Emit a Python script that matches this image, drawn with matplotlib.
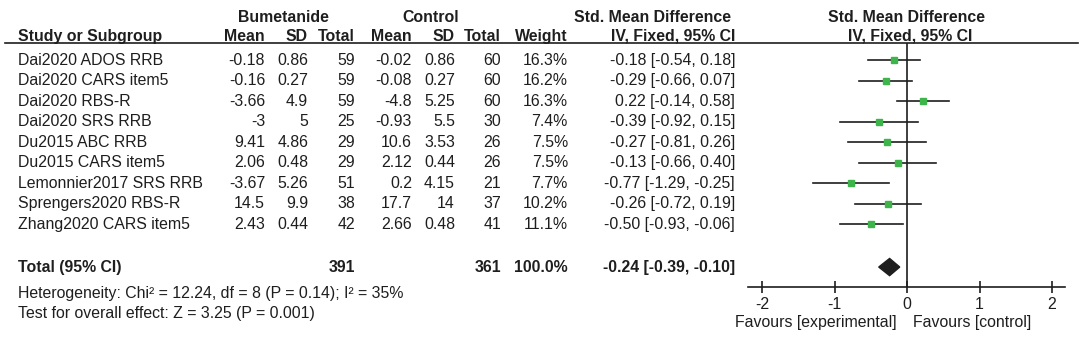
import matplotlib
matplotlib.use('Agg')
import matplotlib.pyplot as plt
import matplotlib.transforms as mtransforms
from matplotlib.lines import Line2D

plt.rcParams['font.family'] = ['Liberation Sans', 'DejaVu Sans']

# data
studies = ['Dai2020 ADOS RRB', 'Dai2020 CARS item5', 'Dai2020 RBS-R', 'Dai2020 SRS RRB',
           'Du2015 ABC RRB', 'Du2015 CARS item5', 'Lemonnier2017 SRS RRB',
           'Sprengers2020 RBS-R', 'Zhang2020 CARS item5']
bum_mean = [-0.18, -0.16, -3.66, -3, 9.41, 2.06, -3.67, 14.5, 2.43]
bum_sd = [0.86, 0.27, 4.9, 5, 4.86, 0.48, 5.26, 9.9, 0.44]
bum_n = [59, 59, 59, 25, 29, 29, 51, 38, 42]
ctl_mean = [-0.02, -0.08, -4.8, -0.93, 10.6, 2.12, 0.2, 17.7, 2.66]
ctl_sd = [0.86, 0.27, 5.25, 5.5, 3.53, 0.44, 4.15, 14, 0.48]
ctl_n = [60, 60, 60, 30, 26, 26, 21, 37, 41]
weight = [16.3, 16.2, 16.3, 7.4, 7.5, 7.5, 7.7, 10.2, 11.1]
smd = [-0.18, -0.29, 0.22, -0.39, -0.27, -0.13, -0.77, -0.26, -0.50]
ci_lo = [-0.54, -0.66, -0.14, -0.92, -0.81, -0.66, -1.29, -0.72, -0.93]
ci_hi = [0.18, 0.07, 0.58, 0.15, 0.26, 0.40, -0.25, 0.19, -0.06]

total_bum, total_ctl, total_weight = 391, 361, 100.0
pooled, pooled_lo, pooled_hi = -0.24, -0.39, -0.10
het_text = 'Heterogeneity: Chi² = 12.24, df = 8 (P = 0.14); I² = 35%'
effect_text = 'Test for overall effect: Z = 3.25 (P = 0.001)'
xticks = [-2, -1, 0, 1, 2]

W, H = 1084, 343
INK = '#1e1e1e'
GREEN = '#3db54a'
FS = 11.4

fig = plt.figure(figsize=(W / 100, H / 100), dpi=100)
fig.patch.set_facecolor('white')

# forest axes placed by pixel box
ax_l, ax_r, ax_t, ax_b = 748, 1065, 43, 287
ax = fig.add_axes([ax_l / W, 1 - ax_b / H, (ax_r - ax_l) / W, (ax_b - ax_t) / H])
x0_px, unit_px = 907, 72.5
ax.set_xlim((ax_l - x0_px) / unit_px, (ax_r - x0_px) / unit_px)
row0_px, step_px = 60, 20.5
ax.set_ylim((ax_b - row0_px) / step_px, (ax_t - row0_px) / step_px)

for s in ['top', 'right', 'left']:
    ax.spines[s].set_visible(False)
ax.spines['bottom'].set_color(INK)
ax.spines['bottom'].set_linewidth(1.2)
ax.set_yticks([])
ax.set_xticks(xticks)
ax.set_xticklabels([str(t) for t in xticks])
ax.tick_params(axis='x', direction='inout', length=9, width=1.2, colors=INK,
               labelsize=FS, pad=3)
ax.patch.set_alpha(0)

ax.axvline(0, color=INK, lw=1.2, zorder=1)

rows = list(range(len(studies)))
for i in rows:
    ax.plot([ci_lo[i], ci_hi[i]], [i, i], color=INK, lw=1.2, zorder=2)
    ax.plot(smd[i], i, marker='s', ms=3.2 + 0.09 * weight[i], color=GREEN,
            mec=GREEN, zorder=3)

total_row = 10.1
dh = 0.42
ax.fill([pooled_lo, pooled, pooled_hi, pooled],
        [total_row, total_row - dh, total_row, total_row + dh], color=INK, zorder=3)

ax.text(-0.14, 12.8, 'Favours [experimental]', ha='right', va='center', fontsize=FS,
        color=INK, clip_on=False)
ax.text(0.08, 12.8, 'Favours [control]', ha='left', va='center', fontsize=FS,
        color=INK, clip_on=False)

# table text: x in figure fraction, y in row units of the forest axes
tr = mtransforms.blended_transform_factory(fig.transFigure, ax.transData)


def put(px, row, s, ha='right', bold=False):
    ax.text(px / W, row, s, transform=tr, ha=ha, va='center', fontsize=FS, color=INK,
            fontweight='bold' if bold else 'normal', clip_on=False)


head1, head2 = -2.05, -1.17
put(283, head1, 'Bumetanide', ha='center', bold=True)
put(431, head1, 'Control', ha='center', bold=True)
put(652, head1, 'Std. Mean Difference', ha='center', bold=True)
put(907, head1, 'Std. Mean Difference', ha='center', bold=True)

put(18, head2, 'Study or Subgroup', ha='left', bold=True)
cols = [265, 308, 355, 412, 455, 501, 568]
for px, lab in zip(cols, ['Mean', 'SD', 'Total', 'Mean', 'SD', 'Total', 'Weight']):
    put(px, head2, lab, bold=True)
put(735, head2, 'IV, Fixed, 95% CI', bold=True)
put(910, head2, 'IV, Fixed, 95% CI', ha='center', bold=True)

fig.add_artist(Line2D([5 / W, 1078 / W], [1 - ax_t / H, 1 - ax_t / H], color=INK, lw=1.2))

for i in rows:
    put(18, i, studies[i], ha='left')
    vals = [f'{bum_mean[i]:g}', f'{bum_sd[i]:g}', f'{bum_n[i]}',
            f'{ctl_mean[i]:g}', f'{ctl_sd[i]:g}', f'{ctl_n[i]}', f'{weight[i]:.1f}%']
    for px, v in zip(cols, vals):
        put(px, i, v)
    put(735, i, f'{smd[i]:.2f} [{ci_lo[i]:.2f}, {ci_hi[i]:.2f}]')

put(18, total_row, 'Total (95% CI)', ha='left', bold=True)
put(355, total_row, str(total_bum), bold=True)
put(501, total_row, str(total_ctl), bold=True)
put(568, total_row, f'{total_weight:.1f}%', bold=True)
put(735, total_row, f'{pooled:.2f} [{pooled_lo:.2f}, {pooled_hi:.2f}]', bold=True)

put(18, 11.37, het_text, ha='left')
put(18, 12.39, effect_text, ha='left')

fig.savefig('out.png', dpi=100, facecolor='white')
